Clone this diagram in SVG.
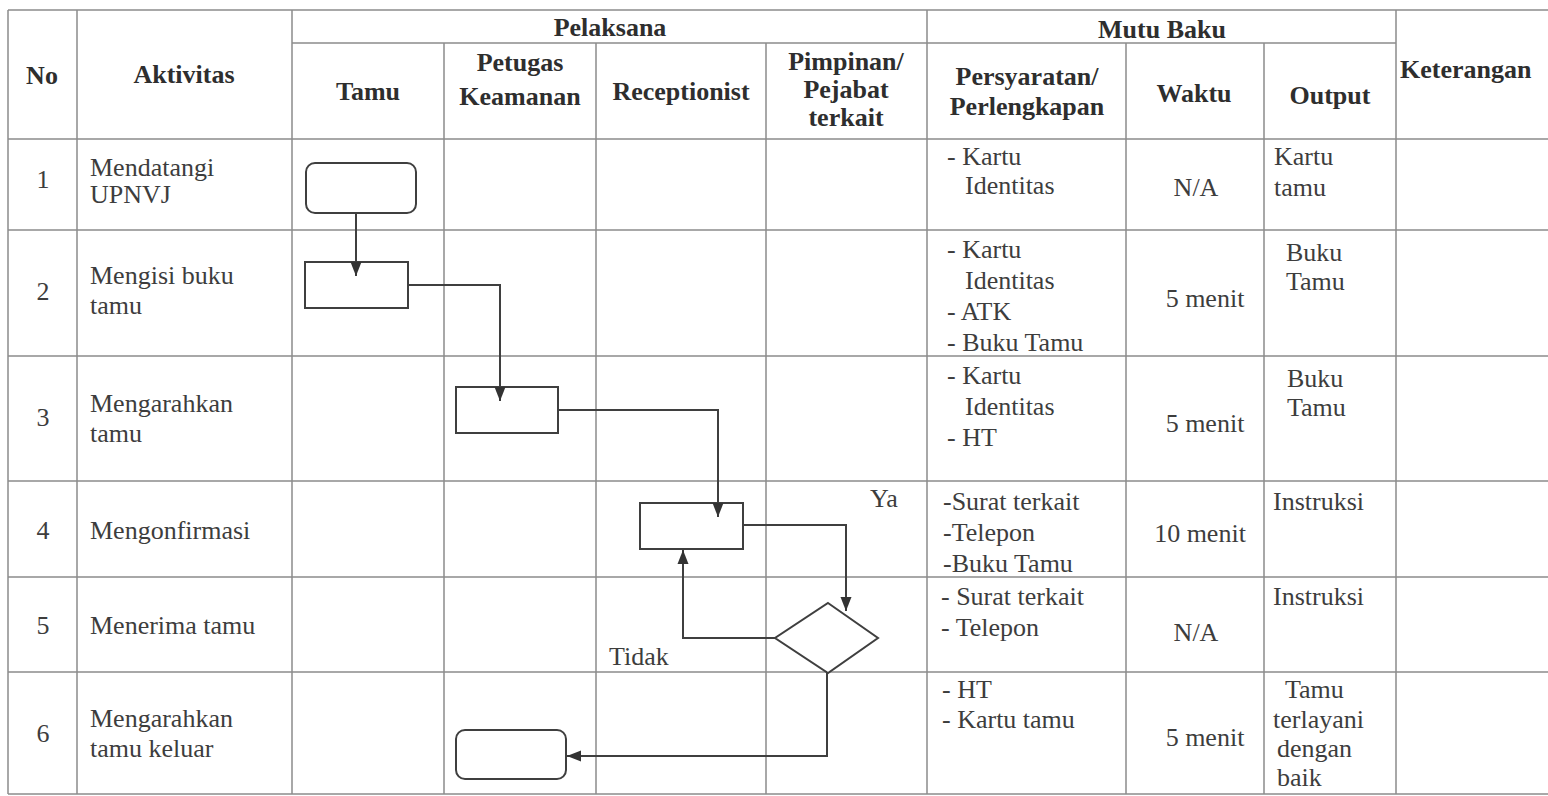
<svg xmlns="http://www.w3.org/2000/svg" width="1548" height="796" viewBox="0 0 1548 796">
<style>
.grid{stroke:#8c8c8c;stroke-width:1.5;fill:none}
.shape{stroke:#3f3f3f;stroke-width:2;fill:#fff}
.conn{stroke:#3f3f3f;stroke-width:2;fill:none}
.h{font-family:"Liberation Serif",serif;font-weight:bold;font-size:26px;fill:#2e2e2e}
.t{font-family:"Liberation Serif",serif;font-size:26px;fill:#3d3d3d}
.c{text-anchor:middle}
</style>
<defs>
<marker id="arr" viewBox="0 0 14 12" refX="14" refY="6" markerWidth="14" markerHeight="12" markerUnits="userSpaceOnUse" orient="auto">
<path d="M0,0.5 L14,6 L0,11.5 Z" fill="#333"/>
</marker>
</defs>
<rect width="1548" height="796" fill="#fff"/>
<g id="table">
<path class="grid" d="M8,10H1548M292,43H1396M8,139H1548M8,230H1548M8,356H1548M8,481H1548M8,577H1548M8,672H1548M8,794H1548"/>
<path class="grid" d="M8,10V794M77,10V794M292,10V794M444,43V794M596,43V794M766,43V794M927,10V794M1126,43V794M1264,43V794M1396,10V794"/>
</g>
<g id="header">
<text class="h c" x="42" y="84">No</text>
<text class="h c" x="184" y="83">Aktivitas</text>
<text class="h c" x="610" y="36">Pelaksana</text>
<text class="h c" x="368" y="100">Tamu</text>
<text class="h c" x="520" y="71">Petugas</text>
<text class="h c" x="520" y="105">Keamanan</text>
<text class="h c" x="681" y="100">Receptionist</text>
<text class="h c" x="846" y="70">Pimpinan/</text>
<text class="h c" x="846" y="98">Pejabat</text>
<text class="h c" x="846" y="126">terkait</text>
<text class="h c" x="1162" y="38">Mutu Baku</text>
<text class="h c" x="1027" y="85">Persyaratan/</text>
<text class="h c" x="1027" y="115">Perlengkapan</text>
<text class="h c" x="1194" y="102">Waktu</text>
<text class="h c" x="1330" y="104">Output</text>
<text class="h" x="1400" y="78">Keterangan</text>
</g>
<g id="row1">
<text class="t c" x="43" y="188">1</text>
<text class="t" x="90" y="176">Mendatangi</text>
<text class="t" x="90" y="203">UPNVJ</text>
<text class="t" x="947" y="165">- Kartu</text>
<text class="t" x="965" y="194">Identitas</text>
<text class="t c" x="1196" y="196">N/A</text>
<text class="t" x="1274" y="165">Kartu</text>
<text class="t" x="1274" y="196">tamu</text>
</g>
<g id="row2">
<text class="t c" x="43" y="300">2</text>
<text class="t" x="90" y="284">Mengisi buku</text>
<text class="t" x="90" y="314">tamu</text>
<text class="t" x="947" y="258">- Kartu</text>
<text class="t" x="965" y="289">Identitas</text>
<text class="t" x="947" y="320">- ATK</text>
<text class="t" x="947" y="351">- Buku Tamu</text>
<text class="t c" x="1205" y="307">5 menit</text>
<text class="t" x="1286" y="261">Buku</text>
<text class="t" x="1286" y="290">Tamu</text>
</g>
<g id="row3">
<text class="t c" x="43" y="426">3</text>
<text class="t" x="90" y="412">Mengarahkan</text>
<text class="t" x="90" y="442">tamu</text>
<text class="t" x="947" y="384">- Kartu</text>
<text class="t" x="965" y="415">Identitas</text>
<text class="t" x="947" y="446">- HT</text>
<text class="t c" x="1205" y="432">5 menit</text>
<text class="t" x="1287" y="387">Buku</text>
<text class="t" x="1287" y="416">Tamu</text>
</g>
<g id="row4">
<text class="t c" x="43" y="539">4</text>
<text class="t" x="90" y="539">Mengonfirmasi</text>
<text class="t" x="943" y="510">-Surat terkait</text>
<text class="t" x="943" y="541">-Telepon</text>
<text class="t" x="943" y="572">-Buku Tamu</text>
<text class="t c" x="1200" y="542">10 menit</text>
<text class="t" x="1273" y="510">Instruksi</text>
</g>
<g id="row5">
<text class="t c" x="43" y="634">5</text>
<text class="t" x="90" y="634">Menerima tamu</text>
<text class="t" x="941" y="605">- Surat terkait</text>
<text class="t" x="941" y="636">- Telepon</text>
<text class="t c" x="1196" y="641">N/A</text>
<text class="t" x="1273" y="605">Instruksi</text>
</g>
<g id="row6">
<text class="t c" x="43" y="742">6</text>
<text class="t" x="90" y="727">Mengarahkan</text>
<text class="t" x="90" y="757">tamu keluar</text>
<text class="t" x="942" y="698">- HT</text>
<text class="t" x="942" y="728">- Kartu tamu</text>
<text class="t c" x="1205" y="746">5 menit</text>
<text class="t" x="1285" y="698">Tamu</text>
<text class="t" x="1273" y="728">terlayani</text>
<text class="t" x="1277" y="757">dengan</text>
<text class="t" x="1277" y="786">baik</text>
</g>
<g id="n1"><rect class="shape" x="306" y="163" width="110" height="50" rx="9"/></g>
<g id="n2"><rect class="shape" x="305" y="262" width="103" height="46"/></g>
<g id="n3"><rect class="shape" x="456" y="387" width="102" height="46"/></g>
<g id="n4"><rect class="shape" x="640" y="503" width="103" height="46"/></g>
<g id="n5"><polygon class="shape" points="828,603 878,638 828,673 775,638"/></g>
<g id="n6"><rect class="shape" x="456" y="730" width="110" height="49" rx="9"/></g>
<g id="connectors">
<path class="conn" d="M356,213V276" marker-end="url(#arr)"/>
<path class="conn" d="M408,285H500V401" marker-end="url(#arr)"/>
<path class="conn" d="M558,410H718V517" marker-end="url(#arr)"/>
<path class="conn" d="M743,525H846V611" marker-end="url(#arr)"/>
<path class="conn" d="M775,638H683V550" marker-end="url(#arr)"/>
<path class="conn" d="M827,673V756H567" marker-end="url(#arr)"/>
<text class="t" x="870" y="507">Ya</text>
<text class="t" x="609" y="665">Tidak</text>
</g>
</svg>
